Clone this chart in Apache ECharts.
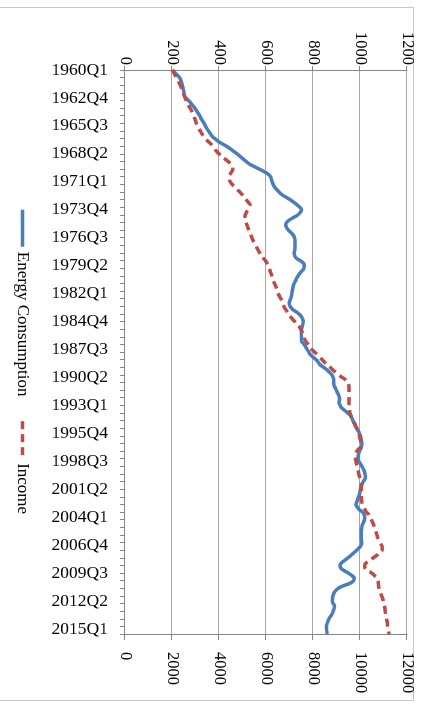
<!DOCTYPE html>
<html>
<head>
<meta charset="utf-8">
<script src="https://cdn.jsdelivr.net/npm/echarts@6/dist/echarts.min.js"></script>
<style>
  html, body { margin: 0; padding: 0; background: #fff; overflow: hidden; }
  #frame { position: absolute; left: -2px; top: 7px; width: 416px; height: 694px; border: 1px solid #c6c6c6; box-sizing: border-box; }
  #wrap { position: absolute; left: 0; top: 0; width: 704px; height: 428px; transform-origin: 0 0; transform: translateX(428px) rotate(90deg); }
  #chart { width: 704px; height: 428px; }
</style>
</head>
<body>
<div id="frame"></div>
<div id="wrap"><div id="chart"></div></div>
<script>
// Quarterly categories 1960Q1 .. 2015Q3
const startYear = 1960, endYear = 2015, lastQuarter = 3;
const categories = [];
for (let y = startYear; y <= endYear; y++) {
  for (let q = 1; q <= 4; q++) {
    if (y === endYear && q > lastQuarter) break;
    categories.push(y + 'Q' + q);
  }
}

const seriesNames = ['Energy Consumption', 'Income'];

const energy = [
  203,212,222,232,238,241,244,247,249,251,
  253,259,270,280,288,297,304,311,318,323,
  330,336,342,348,355,363,370,382,396,412,
  432,448,462,477,490,503,515,529,550,571,
  592,609,619,623,626,630,636,645,655,667,
  684,702,717,731,743,751,746,736,718,700,
  688,684,687,695,706,716,721,723,723,723,
  723,722,720,722,728,745,759,763,761,754,
  744,737,730,726,720,716,714,712,710,708,
  705,701,699,703,711,725,740,750,756,758,
  757,754,751,751,750,751,751,753,762,769,
  775,782,789,800,813,822,830,845,859,870,
  880,886,888,888,889,894,899,904,909,913,
  912,911,916,922,935,948,959,965,970,975,
  980,986,992,997,1001,1004,1006,1008,1007,1003,
  998,995,992,991,995,1002,1008,1014,1019,1021,
  1023,1021,1014,1009,1005,1002,1000,998,994,990,
  987,983,988,997,1010,1018,1020,1019,1015,1010,
  1008,1006,1005,1005,1005,1006,1007,1005,997,986,
  974,962,949,935,921,915,918,932,950,965,
  976,973,958,930,908,896,889,885,883,882,
  886,891,890,886,882,875,868,863,860,857,
  857,859,860
];

const income = [
  2000,2070,2130,2190,2250,2300,2350,2400,2440,2480,
  2520,2560,2600,2640,2700,2770,2830,2870,2920,2960,
  3000,3040,3090,3130,3200,3270,3330,3420,3520,3640,
  3720,3800,3890,4000,4120,4250,4390,4500,4580,4590,
  4540,4470,4420,4430,4480,4560,4660,4770,4880,4980,
  5070,5150,5240,5320,5290,5230,5170,5120,5110,5130,
  5150,5190,5230,5270,5320,5360,5400,5440,5500,5560,
  5610,5670,5730,5790,5880,5970,6040,6090,6130,6170,
  6210,6250,6280,6320,6360,6410,6450,6480,6520,6570,
  6630,6680,6720,6760,6820,6890,6970,7040,7120,7220,
  7310,7410,7470,7530,7570,7610,7650,7710,7790,7860,
  7950,8060,8170,8270,8390,8490,8610,8730,8840,8960,
  9080,9240,9400,9480,9520,9530,9530,9530,9530,9530,
  9530,9530,9530,9540,9550,9580,9610,9650,9700,9760,
  9810,9860,9910,9950,9980,10000,10030,10060,10070,9960,
  9870,9820,9800,9810,9830,9850,9880,9900,9930,9950,
  9980,10010,10040,10050,10050,10050,10050,10050,10050,10060,
  10080,10100,10150,10210,10270,10370,10420,10480,10530,10580,
  10620,10660,10690,10720,10750,10800,10860,10910,10950,10940,
  10850,10720,10560,10420,10270,10200,10210,10320,10500,10620,
  10730,10770,10780,10790,10810,10840,10880,10920,10960,10990,
  11010,11040,11060,11070,11090,11110,11130,11150,11170,11180,
  11200,11220,11230
];

const energyTicks = [0, 200, 400, 600, 800, 1000, 1200];
const incomeTicks = [0, 2000, 4000, 6000, 8000, 10000, 12000];

const font = 'Liberation Serif, Times New Roman, serif';
const axisGray = '#868686';
const gridGray = '#a6a6a6';
const plain = v => String(v);

const chart = echarts.init(document.getElementById('chart'), null, { renderer: 'canvas' });
chart.setOption({
  animation: false,
  backgroundColor: 'transparent',
  grid: { left: 70, right: 70, top: 21, bottom: 125, containLabel: false },
  legend: {
    data: seriesNames,
    left: 208, top: 397,
    itemWidth: 37, itemHeight: 20, itemGap: 23, padding: 0,
    itemStyle: { color: 'transparent', borderWidth: 0, opacity: 0 },
    lineStyle: { width: 3.5 },
    textStyle: { fontFamily: font, fontSize: 17, color: '#000' }
  },
  xAxis: {
    type: 'category',
    data: categories,
    boundaryGap: false,
    axisLine: { lineStyle: { color: axisGray, width: 1 } },
    axisTick: { interval: 2, length: 5, lineStyle: { color: axisGray } },
    axisLabel: { interval: 10, rotate: 90, margin: 17, fontFamily: font, fontSize: 17.5, color: '#000' },
    splitLine: { show: false }
  },
  yAxis: [
    {
      type: 'value', position: 'left',
      min: energyTicks[0], max: energyTicks[energyTicks.length - 1], interval: energyTicks[1] - energyTicks[0],
      axisLine: { show: true, lineStyle: { color: axisGray, width: 1 } },
      axisTick: { show: true, length: 4, lineStyle: { color: axisGray } },
      axisLabel: { margin: 5, formatter: plain, fontFamily: font, fontSize: 16.5, color: '#000' },
      splitLine: { show: true, lineStyle: { color: gridGray, width: 1 } }
    },
    {
      type: 'value', position: 'right',
      min: incomeTicks[0], max: incomeTicks[incomeTicks.length - 1], interval: incomeTicks[1] - incomeTicks[0],
      axisLine: { show: true, lineStyle: { color: axisGray, width: 1 } },
      axisTick: { show: true, length: 6, lineStyle: { color: axisGray } },
      axisLabel: { margin: 18, formatter: plain, fontFamily: font, fontSize: 16.5, color: '#000' },
      splitLine: { show: false }
    }
  ],
  series: [
    {
      name: seriesNames[0], type: 'line', yAxisIndex: 0,
      data: energy, smooth: true, symbol: 'none', showSymbol: false,
      lineStyle: { color: '#4a7ebb', width: 3.5 },
      itemStyle: { color: '#4a7ebb' }
    },
    {
      name: seriesNames[1], type: 'line', yAxisIndex: 1,
      data: income, smooth: true, symbol: 'none', showSymbol: false,
      lineStyle: { color: '#be4b48', width: 3.5, type: [8, 5] },
      itemStyle: { color: '#be4b48' }
    }
  ]
});
</script>
</body>
</html>
